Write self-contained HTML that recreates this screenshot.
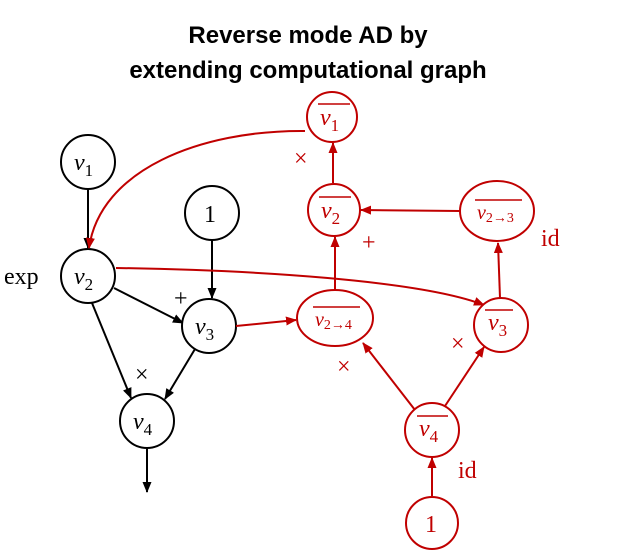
<!DOCTYPE html>
<html><head><meta charset="utf-8"><style>
body{margin:0;background:#fff;width:618px;height:551px;overflow:hidden}
svg{display:block}
.t{font-family:"Liberation Sans",sans-serif;font-weight:bold;font-size:24px;text-anchor:middle}
.m{font-family:"Liberation Serif",serif;font-style:italic;font-size:24px}
.l{font-family:"Liberation Serif",serif;font-size:24px}
</style></head><body>
<svg width="618" height="551">
<defs>
<marker id="ab" markerWidth="11" markerHeight="11" refX="10" refY="5.5" orient="auto" markerUnits="userSpaceOnUse"><path d="M0,1 L11,5.5 L0,10 Z" fill="#000"/></marker>
<marker id="ar" markerWidth="11" markerHeight="11" refX="10" refY="5.5" orient="auto" markerUnits="userSpaceOnUse"><path d="M0,1 L11,5.5 L0,10 Z" fill="#c00000"/></marker>
</defs>
<text class="t" x="308" y="43">Reverse mode AD by</text>
<text class="t" x="308" y="78">extending computational graph</text>

<g stroke="#000" stroke-width="2" fill="none">
<line x1="88" y1="189" x2="88" y2="248" marker-end="url(#ab)"/>
<line x1="212" y1="240" x2="212" y2="298" marker-end="url(#ab)"/>
<line x1="114" y1="288" x2="183" y2="323" marker-end="url(#ab)"/>
<line x1="92" y1="303" x2="131" y2="398" marker-end="url(#ab)"/>
<line x1="195" y1="349" x2="165" y2="399" marker-end="url(#ab)"/>
<line x1="147" y1="449" x2="147" y2="492" marker-end="url(#ab)"/>
</g>
<g stroke="#000" stroke-width="2" fill="#fff">
<circle cx="88" cy="162" r="27"/><circle cx="88" cy="276" r="27"/><circle cx="212" cy="213" r="27"/>
<circle cx="209" cy="326" r="27"/><circle cx="147" cy="421" r="27"/>
</g>
<g class="m" fill="#000">
<text x="74" y="170">v<tspan font-style="normal" font-size="17" dy="6">1</tspan></text>
<text x="74" y="284">v<tspan font-style="normal" font-size="17" dy="6">2</tspan></text>
<text x="204" y="222" font-style="normal">1</text>
<text x="195" y="334">v<tspan font-style="normal" font-size="17" dy="6">3</tspan></text>
<text x="133" y="429">v<tspan font-style="normal" font-size="17" dy="6">4</tspan></text>
</g>
<g class="l" fill="#000">
<text x="4" y="284">exp</text>
<text x="174" y="306">+</text>
<text x="135" y="382">×</text>
</g>

<g stroke="#c00000" stroke-width="2" fill="none">
<path d="M305,131 C200,130 100,170 89,248" marker-end="url(#ar)"/>
<path d="M116,268 C250,270 420,280 484,305" marker-end="url(#ar)"/>
<line x1="236" y1="326" x2="296" y2="320" marker-end="url(#ar)"/>
<line x1="333" y1="183" x2="333" y2="143" marker-end="url(#ar)"/>
<line x1="460" y1="211" x2="361" y2="210" marker-end="url(#ar)"/>
<line x1="335" y1="290" x2="335" y2="237" marker-end="url(#ar)"/>
<line x1="500" y1="298" x2="498" y2="243" marker-end="url(#ar)"/>
<line x1="415" y1="410" x2="363" y2="343" marker-end="url(#ar)"/>
<line x1="445" y1="406" x2="484" y2="347" marker-end="url(#ar)"/>
<line x1="432" y1="496" x2="432" y2="458" marker-end="url(#ar)"/>
</g>
<g stroke="#c00000" stroke-width="2" fill="#fff">
<circle cx="332" cy="117" r="25"/><circle cx="334" cy="210" r="26"/>
<ellipse cx="497" cy="211" rx="37" ry="30"/><ellipse cx="335" cy="318" rx="38" ry="28"/>
<circle cx="501" cy="325" r="27"/><circle cx="432" cy="430" r="27"/><circle cx="432" cy="523" r="26"/>
</g>
<g class="m" fill="#c00000">
<text x="320" y="125">v<tspan font-style="normal" font-size="17" dy="6">1</tspan></text>
<line x1="318" y1="104" x2="350" y2="104" stroke="#c00000" stroke-width="1.5"/>
<text x="321" y="218">v<tspan font-style="normal" font-size="17" dy="6">2</tspan></text>
<line x1="319" y1="197" x2="351" y2="197" stroke="#c00000" stroke-width="1.5"/>
<text x="477" y="219" font-size="20">v<tspan font-style="normal" font-size="14" dy="3">2→3</tspan></text>
<line x1="475" y1="200" x2="522" y2="200" stroke="#c00000" stroke-width="1.5"/>
<text x="315" y="326" font-size="20">v<tspan font-style="normal" font-size="14" dy="3">2→4</tspan></text>
<line x1="313" y1="307" x2="360" y2="307" stroke="#c00000" stroke-width="1.5"/>
<text x="488" y="330">v<tspan font-style="normal" font-size="17" dy="6">3</tspan></text>
<line x1="485" y1="310" x2="513" y2="310" stroke="#c00000" stroke-width="1.5"/>
<text x="419" y="436">v<tspan font-style="normal" font-size="17" dy="6">4</tspan></text>
<line x1="417" y1="416" x2="448" y2="416" stroke="#c00000" stroke-width="1.5"/>
<text x="425" y="532" font-style="normal">1</text>
</g>
<g class="l" fill="#c00000">
<text x="294" y="166">×</text>
<text x="362" y="250">+</text>
<text x="541" y="246">id</text>
<text x="337" y="374">×</text>
<text x="451" y="351">×</text>
<text x="458" y="478">id</text>
</g>
</svg>
</body></html>
